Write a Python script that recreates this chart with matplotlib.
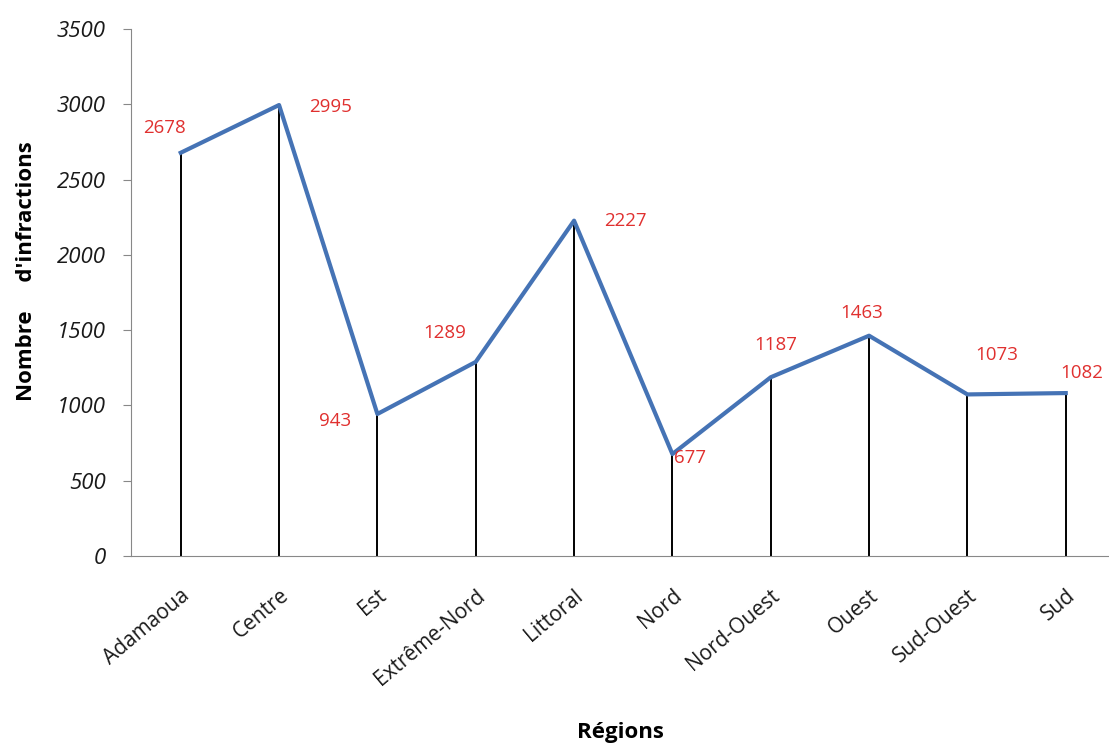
import matplotlib
matplotlib.use('Agg')
import matplotlib.pyplot as plt

regions = ['Adamaoua', 'Centre', 'Est', 'Extrême-Nord', 'Littoral', 'Nord',
           'Nord-Ouest', 'Ouest', 'Sud-Ouest', 'Sud']
infractions = [2678, 2995, 943, 1289, 2227, 677, 1187, 1463, 1073, 1082]
# label offsets in pixels (dx, dy up) relative to the point
label_offsets = [(-16, 25), (51, -2), (-42, -7), (-31, 29), (51, 0),
                 (18, -4), (5, 32), (-7, 23), (29, 39), (16, 20)]

plt.rcParams['font.family'] = ['Open Sans', 'DejaVu Sans']

fig = plt.figure(figsize=(11.09, 7.45), dpi=100)
ax = fig.add_axes([0.1181, 0.2537, 0.8819, 0.7074])

x = range(len(regions))
ax.vlines(x, 0, infractions, color='black', linewidth=1.4, zorder=2)
ax.plot(x, infractions, color='#4573B5', linewidth=3, zorder=3)

for i, v in enumerate(infractions):
    dx, dy = label_offsets[i]
    ax.annotate(str(v), (i, v), xytext=(dx * 0.72, dy * 0.72),
                textcoords='offset points', ha='center', va='center',
                color='#E0302F', fontsize=13.5)

ax.set_xlim(-0.506, 9.44)
ax.set_ylim(0, 3500)
ax.set_yticks(range(0, 3501, 500))
ax.set_xticks(list(x))
ax.set_xticklabels(regions, rotation=40, ha='right', va='top',
                   rotation_mode='anchor', fontsize=15, color='#1a1a1a')
for lbl in ax.get_yticklabels():
    lbl.set_fontstyle('italic')
    lbl.set_fontsize(16)
    lbl.set_color('#1a1a1a')
ax.tick_params(axis='x', length=0, pad=21)
ax.tick_params(axis='y', length=6, color='#888888', pad=12)

for s in ['top', 'right']:
    ax.spines[s].set_visible(False)
ax.spines['left'].set_color('#888888')
ax.spines['bottom'].set_color('#888888')

ax.set_ylabel("Nombre     d'infractions", fontsize=16, fontweight='bold')
ax.yaxis.set_label_coords(-0.096, 0.54)
ax.set_xlabel('Régions', fontsize=16, fontweight='bold')
ax.xaxis.set_label_coords(0.5, -0.315)

plt.savefig('out.png', dpi=100)
